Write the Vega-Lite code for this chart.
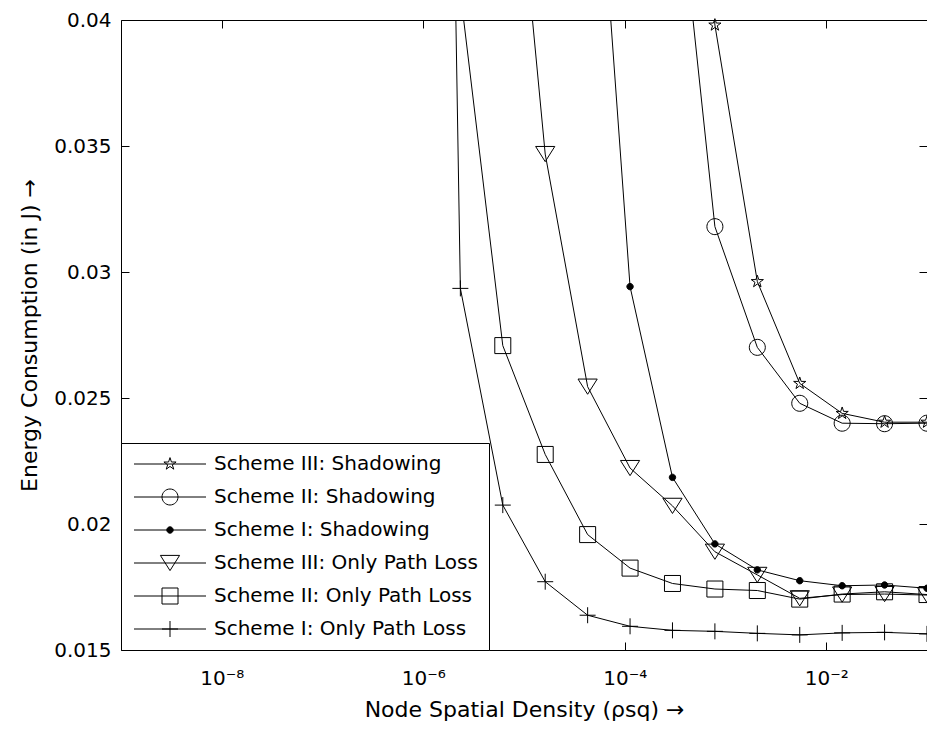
{
  "$schema": "https://vega.github.io/schema/vega-lite/v6.json",
  "width": 806,
  "height": 630,
  "autosize": "none",
  "padding": {"left": 121, "top": 20, "right": 0, "bottom": 83},
  "background": "white",
  "data": {
    "values": [
      {"x": 2.9764e-4, "y": 0.065, "s": "Scheme III: Shadowing"},
      {"x": 7.8476e-4, "y": 0.0398, "s": "Scheme III: Shadowing"},
      {"x": 2.0691e-3, "y": 0.02962, "s": "Scheme III: Shadowing"},
      {"x": 5.4556e-3, "y": 0.02558, "s": "Scheme III: Shadowing"},
      {"x": 1.4384e-2, "y": 0.02439, "s": "Scheme III: Shadowing"},
      {"x": 3.7927e-2, "y": 0.02404, "s": "Scheme III: Shadowing"},
      {"x": 0.1, "y": 0.02404, "s": "Scheme III: Shadowing"},
      {"x": 2.9764e-4, "y": 0.0477, "s": "Scheme II: Shadowing"},
      {"x": 7.8476e-4, "y": 0.0318, "s": "Scheme II: Shadowing"},
      {"x": 2.0691e-3, "y": 0.02701, "s": "Scheme II: Shadowing"},
      {"x": 5.4556e-3, "y": 0.02479, "s": "Scheme II: Shadowing"},
      {"x": 1.4384e-2, "y": 0.0240, "s": "Scheme II: Shadowing"},
      {"x": 3.7927e-2, "y": 0.02398, "s": "Scheme II: Shadowing"},
      {"x": 0.1, "y": 0.0240, "s": "Scheme II: Shadowing"},
      {"x": 4.2813e-5, "y": 0.0527, "s": "Scheme I: Shadowing"},
      {"x": 1.1288e-4, "y": 0.02942, "s": "Scheme I: Shadowing"},
      {"x": 2.9764e-4, "y": 0.02185, "s": "Scheme I: Shadowing"},
      {"x": 7.8476e-4, "y": 0.01921, "s": "Scheme I: Shadowing"},
      {"x": 2.0691e-3, "y": 0.01818, "s": "Scheme I: Shadowing"},
      {"x": 5.4556e-3, "y": 0.01775, "s": "Scheme I: Shadowing"},
      {"x": 1.4384e-2, "y": 0.01755, "s": "Scheme I: Shadowing"},
      {"x": 3.7927e-2, "y": 0.01758, "s": "Scheme I: Shadowing"},
      {"x": 0.1, "y": 0.01745, "s": "Scheme I: Shadowing"},
      {"x": 6.1585e-6, "y": 0.0524, "s": "Scheme III: Only Path Loss"},
      {"x": 1.6238e-5, "y": 0.03468, "s": "Scheme III: Only Path Loss"},
      {"x": 4.2813e-5, "y": 0.02545, "s": "Scheme III: Only Path Loss"},
      {"x": 1.1288e-4, "y": 0.02222, "s": "Scheme III: Only Path Loss"},
      {"x": 2.9764e-4, "y": 0.02072, "s": "Scheme III: Only Path Loss"},
      {"x": 7.8476e-4, "y": 0.0189, "s": "Scheme III: Only Path Loss"},
      {"x": 2.0691e-3, "y": 0.01798, "s": "Scheme III: Only Path Loss"},
      {"x": 5.4556e-3, "y": 0.01705, "s": "Scheme III: Only Path Loss"},
      {"x": 1.4384e-2, "y": 0.0172, "s": "Scheme III: Only Path Loss"},
      {"x": 3.7927e-2, "y": 0.01722, "s": "Scheme III: Only Path Loss"},
      {"x": 0.1, "y": 0.01718, "s": "Scheme III: Only Path Loss"},
      {"x": 2.3357e-6, "y": 0.0411, "s": "Scheme II: Only Path Loss"},
      {"x": 6.1585e-6, "y": 0.02708, "s": "Scheme II: Only Path Loss"},
      {"x": 1.6238e-5, "y": 0.02276, "s": "Scheme II: Only Path Loss"},
      {"x": 4.2813e-5, "y": 0.01958, "s": "Scheme II: Only Path Loss"},
      {"x": 1.1288e-4, "y": 0.01825, "s": "Scheme II: Only Path Loss"},
      {"x": 2.9764e-4, "y": 0.01764, "s": "Scheme II: Only Path Loss"},
      {"x": 7.8476e-4, "y": 0.01742, "s": "Scheme II: Only Path Loss"},
      {"x": 2.0691e-3, "y": 0.01736, "s": "Scheme II: Only Path Loss"},
      {"x": 5.4556e-3, "y": 0.01702, "s": "Scheme II: Only Path Loss"},
      {"x": 1.4384e-2, "y": 0.01722, "s": "Scheme II: Only Path Loss"},
      {"x": 3.7927e-2, "y": 0.01731, "s": "Scheme II: Only Path Loss"},
      {"x": 0.1, "y": 0.0172, "s": "Scheme II: Only Path Loss"},
      {"x": 8.8587e-7, "y": 0.13, "s": "Scheme I: Only Path Loss"},
      {"x": 2.3357e-6, "y": 0.02935, "s": "Scheme I: Only Path Loss"},
      {"x": 6.1585e-6, "y": 0.02075, "s": "Scheme I: Only Path Loss"},
      {"x": 1.6238e-5, "y": 0.01771, "s": "Scheme I: Only Path Loss"},
      {"x": 4.2813e-5, "y": 0.01638, "s": "Scheme I: Only Path Loss"},
      {"x": 1.1288e-4, "y": 0.01594, "s": "Scheme I: Only Path Loss"},
      {"x": 2.9764e-4, "y": 0.01578, "s": "Scheme I: Only Path Loss"},
      {"x": 7.8476e-4, "y": 0.01574, "s": "Scheme I: Only Path Loss"},
      {"x": 2.0691e-3, "y": 0.01566, "s": "Scheme I: Only Path Loss"},
      {"x": 5.4556e-3, "y": 0.0156, "s": "Scheme I: Only Path Loss"},
      {"x": 1.4384e-2, "y": 0.01568, "s": "Scheme I: Only Path Loss"},
      {"x": 3.7927e-2, "y": 0.0157, "s": "Scheme I: Only Path Loss"},
      {"x": 0.1, "y": 0.01564, "s": "Scheme I: Only Path Loss"}
    ]
  },
  "layer": [
    {
      "mark": {"type": "line", "clip": true, "color": "black", "strokeWidth": 1},
      "encoding": {
        "x": {
          "field": "x", "type": "quantitative",
          "scale": {"type": "log", "domain": [1e-9, 0.1], "nice": false},
          "axis": {
            "orient": "bottom",
            "offset": -8,
            "values": [1e-8, 1e-6, 1e-4, 1e-2],
            "labelExpr": "'10⁻' + ['⁰','¹','²','³','⁴','⁵','⁶','⁷','⁸','⁹'][-round(log(datum.value)/LN10)]",
            "labelPadding": 18,
            "labelFlush": false,
            "title": "Node Spatial Density (ρsq) →",
            "titlePadding": 11
          }
        },
        "y": {
          "field": "y", "type": "quantitative",
          "scale": {"domain": [0.015, 0.04], "nice": false, "zero": false},
          "axis": {
            "orient": "left",
            "offset": -8,
            "values": [0.015, 0.02, 0.025, 0.03, 0.035, 0.04],
            "format": "~g",
            "labelPadding": 10,
            "title": "Energy Consumption (in J) →",
            "titlePadding": 12
          }
        },
        "detail": {"field": "s", "type": "nominal"}
      }
    },
    {
      "transform": [{"filter": "datum.y <= 0.0401"}],
      "mark": {"type": "point", "filled": false, "stroke": "black", "strokeWidth": 1, "size": 256, "opacity": 1},
      "encoding": {
        "x": {
          "field": "x", "type": "quantitative",
          "scale": {"type": "log", "domain": [1e-9, 0.1], "nice": false},
          "axis": {"orient": "top", "offset": -8, "values": [1e-8, 1e-6, 1e-4, 1e-2], "labels": false, "title": null}
        },
        "y": {
          "field": "y", "type": "quantitative",
          "scale": {"domain": [0.015, 0.04], "nice": false, "zero": false},
          "axis": {"orient": "right", "offset": -8, "values": [0.015, 0.02, 0.025, 0.03, 0.035, 0.04], "labels": false, "title": null}
        },
        "shape": {
          "field": "s", "type": "nominal",
          "scale": {
            "domain": ["Scheme I: Only Path Loss", "Scheme II: Only Path Loss", "Scheme III: Only Path Loss", "Scheme I: Shadowing", "Scheme II: Shadowing", "Scheme III: Shadowing"],
            "range": [
              "M-1,0L1,0M0,-1L0,1",
              "M-1,-1L1,-1L1,1L-1,1Z",
              "M-1.2,-0.95L1.2,-0.95L0,0.95Z",
              "M0.4,0A0.4,0.4 0 1 1 -0.4,0A0.4,0.4 0 1 1 0.4,0Z",
              "M1,0A1,1 0 1 1 -1,0A1,1 0 1 1 1,0Z",
              "M0,-0.8L0.18,-0.248L0.761,-0.247L0.291,0.095L0.47,0.647L0,0.306L-0.47,0.647L-0.291,0.095L-0.761,-0.247L-0.18,-0.248Z"
            ]
          },
          "legend": null
        },
        "fill": {
          "field": "s", "type": "nominal",
          "scale": {
            "domain": ["Scheme III: Shadowing", "Scheme II: Shadowing", "Scheme I: Shadowing", "Scheme III: Only Path Loss", "Scheme II: Only Path Loss", "Scheme I: Only Path Loss"],
            "range": ["transparent", "transparent", "black", "transparent", "transparent", "transparent"]
          },
          "legend": {
            "title": null,
            "orient": "bottom-left",
            "offset": 0,
            "padding": 11,
            "strokeColor": "black",
            "fillColor": "white",
            "symbolSize": 256,
            "symbolType": {"expr": "'M-4.5,0L4.5,0' + scale('shape', datum.value)"},
            "symbolStrokeColor": "black",
            "symbolStrokeWidth": 1,
            "symbolOffset": 28,
            "labelOffset": 34,
            "labelFontSize": 20,
            "labelFont": "DejaVu Sans",
            "labelColor": "black",
            "labelLimit": 0,
            "rowPadding": 13
          }
        }
      }
    }
  ],
  "resolve": {"axis": {"x": "independent", "y": "independent"}},
  "config": {
    "font": "DejaVu Sans",
    "view": {"stroke": "black", "strokeWidth": 1},
    "axis": {
      "labelFont": "DejaVu Sans",
      "labelFontSize": 20,
      "labelColor": "black",
      "titleFont": "DejaVu Sans",
      "titleFontSize": 22,
      "titleFontWeight": "normal",
      "titleColor": "black",
      "ticks": true,
      "tickColor": "black",
      "tickWidth": 1,
      "tickSize": 8,
      "zindex": 2,
      "domain": false,
      "grid": false
    }
  }
}
